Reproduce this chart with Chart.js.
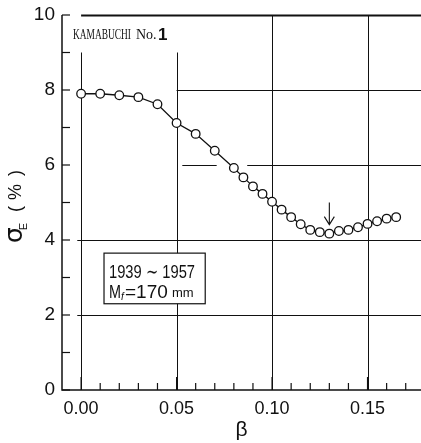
<!DOCTYPE html>
<html lang="en">
<head>
<meta charset="UTF-8">
<title>KAMABUCHI No.1 - sigma_E vs beta</title>
<script src="https://cdn.jsdelivr.net/npm/chart.js"></script>
<style>
    html, body { margin: 0; padding: 0; background: #fff; }
    .chart-container { position: relative; width: 421px; height: 443px; }
</style>
</head>
<body>
<div class="chart-container">
    <canvas id="sigmaChart" width="421" height="443"></canvas>
</div>
<script>
// values
const betaValues = [0.00, 0.01, 0.02, 0.03, 0.04, 0.05, 0.06, 0.07, 0.08,
    0.085, 0.09, 0.095, 0.10, 0.105, 0.11, 0.115, 0.12, 0.125, 0.13,
    0.135, 0.14, 0.145, 0.15, 0.155, 0.16, 0.165];
const sigmaValues = [7.90, 7.90, 7.86, 7.81, 7.62, 7.12, 6.83, 6.38, 5.92,
    5.67, 5.43, 5.23, 5.02, 4.81, 4.61, 4.42, 4.27, 4.21, 4.17,
    4.24, 4.27, 4.34, 4.43, 4.50, 4.57, 4.61];
const xTickValues = [0, 0.05, 0.10, 0.15];
const xTickLabels = ['0.00', '0.05', '0.10', '0.15'];
const yTickValues = [0, 2, 4, 6, 8, 10];
const markedBeta = 0.13;   // arrow marks the minimum

const INK = '#111';

// draw text squeezed to a given width (the scan uses narrow type)
function narrowText(ctx, text, x, y, font, width) {
    ctx.save();
    ctx.font = font;
    const w = ctx.measureText(text).width;
    ctx.translate(x, y);
    ctx.scale(Math.min(1, width / w), 1);
    ctx.fillText(text, 0, 0);
    ctx.restore();
}

// grid, axes, small ticks and notes like the hand drawn original
const paperPlugin = {
    id: 'paper',
    beforeDatasetsDraw(chart) {
        const { ctx, chartArea: a, scales: { x, y } } = chart;
        ctx.save();
        ctx.strokeStyle = INK;
        ctx.lineCap = 'butt';

        // vertical grid (x=0 and 0.05 stop short of the top)
        ctx.lineWidth = 1;
        xTickValues.forEach(v => {
            const top = v < 0.1 ? 9 : 10;
            const px = Math.round(x.getPixelForValue(v)) + 0.5;
            ctx.beginPath();
            ctx.moveTo(px, y.getPixelForValue(top));
            ctx.lineTo(px, a.bottom);
            ctx.stroke();
        });

        // horizontal grid
        const hSeg = {
            2: [[-0.002, null]],
            4: [[-0.002, null]],
            6: [[0.053, 0.071], [0.087, null]],
            8: [[0.05, null]],
            10: [[0, null]]
        };
        yTickValues.filter(v => v > 0).forEach(v => {
            const py = Math.round(y.getPixelForValue(v)) + 0.5;
            ctx.lineWidth = v === 10 ? 2 : 1;
            hSeg[v].forEach(([s, e]) => {
                ctx.beginPath();
                ctx.moveTo(x.getPixelForValue(s), py);
                ctx.lineTo(e === null ? a.right : x.getPixelForValue(e), py);
                ctx.stroke();
            });
        });

        // axes
        ctx.lineWidth = 1.5;
        ctx.beginPath();
        ctx.moveTo(a.left, a.top);
        ctx.lineTo(a.left, a.bottom);
        ctx.lineTo(a.right, a.bottom);
        ctx.stroke();

        // small ticks pointing inward
        ctx.lineWidth = 1.2;
        for (let i = 0; i <= 17; i++) {
            const px = x.getPixelForValue(i / 100);
            ctx.beginPath();
            ctx.moveTo(px, a.bottom);
            ctx.lineTo(px, a.bottom - (i % 5 === 0 ? 13 : 7));
            ctx.stroke();
        }
        for (let j = 0; j <= 10; j++) {
            const py = y.getPixelForValue(j);
            ctx.beginPath();
            ctx.moveTo(a.left, py);
            ctx.lineTo(a.left + 8, py);
            ctx.stroke();
        }
        ctx.restore();
    },
    afterDatasetsDraw(chart) {
        const { ctx, chartArea: a, scales: { x, y } } = chart;
        ctx.save();
        ctx.fillStyle = INK;
        ctx.strokeStyle = INK;
        ctx.textBaseline = 'alphabetic';

        // station name
        narrowText(ctx, 'KAMABUCHI', 73, 39, '14px "Liberation Serif"', 58);
        narrowText(ctx, 'No.', 136, 39, '14px "Liberation Serif"', 21);
        ctx.font = 'bold 17px "Liberation Sans"';
        ctx.fillText('1', 158, 40);

        // arrow at the minimum
        const ax = x.getPixelForValue(markedBeta);
        const ay0 = y.getPixelForValue(5.0);
        const ay1 = y.getPixelForValue(4.41);
        ctx.lineWidth = 1.1;
        ctx.beginPath();
        ctx.moveTo(ax, ay0);
        ctx.lineTo(ax, ay1);
        ctx.moveTo(ax - 5, ay1 - 8);
        ctx.lineTo(ax, ay1);
        ctx.lineTo(ax + 5, ay1 - 8);
        ctx.stroke();

        // info box
        const bx0 = x.getPixelForValue(0.012), bx1 = x.getPixelForValue(0.065);
        const by0 = y.getPixelForValue(3.65), by1 = y.getPixelForValue(2.3);
        ctx.lineWidth = 1.2;
        ctx.fillStyle = '#fff';
        ctx.fillRect(bx0, by0, bx1 - bx0, by1 - by0);
        ctx.strokeRect(bx0, by0, bx1 - bx0, by1 - by0);
        ctx.fillStyle = INK;
        narrowText(ctx, '1939 \u223C 1957', bx0 + 5, by0 + 25, '19px "Liberation Sans"', 86);
        narrowText(ctx, 'M', bx0 + 5, by0 + 45, '19px "Liberation Sans"', 12);
        ctx.font = 'italic 10px "Liberation Sans"';
        ctx.fillText('f', bx0 + 17, by0 + 47);
        ctx.font = '19px "Liberation Sans"';
        ctx.fillText('=170', bx0 + 21, by0 + 45);
        ctx.font = '13px "Liberation Sans"';
        ctx.fillText('mm', bx0 + 68, by0 + 44);

        // y axis title  "σE ( % )", read bottom to top
        ctx.save();
        ctx.translate(22, 243);
        ctx.rotate(-Math.PI / 2);
        ctx.font = '25px "DejaVu Sans"';
        ctx.fillText('\u03C3', 0, 0);
        const ws = ctx.measureText('\u03C3').width;
        ctx.font = '11px "Liberation Sans"';
        ctx.fillText('E', ws - 3, 5);
        ctx.font = '18px "Liberation Sans"';
        ctx.fillText('(', 31, -1);
        ctx.fillText('%', 43, -1);
        ctx.fillText(')', 67, -1);
        ctx.restore();

        ctx.restore();
    }
};

const ctx = document.getElementById('sigmaChart').getContext('2d');

const sigmaChart = new Chart(ctx, {
    type: 'scatter',
    data: {
        datasets: [{
            data: betaValues.map((b, i) => ({ x: b, y: sigmaValues[i] })),
            showLine: true,
            tension: 0,
            borderColor: INK,
            borderWidth: 1.3,
            pointRadius: 4.3,
            pointBorderWidth: 1.3,
            pointBorderColor: INK,
            pointBackgroundColor: '#fff'
        }]
    },
    options: {
        responsive: false,
        animation: false,
        devicePixelRatio: 1,
        layout: { autoPadding: false, padding: { top: 15, right: 0, left: 0, bottom: 0 } },
        plugins: {
            legend: { display: false },
            tooltip: { enabled: false }
        },
        scales: {
            x: {
                type: 'linear',
                min: -0.01,
                max: 0.178,
                afterBuildTicks: s => { s.ticks = xTickValues.map(v => ({ value: v })); },
                afterFit: s => { s.height = 53; s.paddingLeft = 0; s.paddingRight = 0; },
                grid: { display: false, drawTicks: false },
                border: { display: false },
                ticks: {
                    color: INK,
                    padding: 8,
                    font: { family: 'Liberation Sans', size: 18 },
                    callback: (v) => xTickLabels[xTickValues.indexOf(v)] ?? ''
                },
                title: {
                    display: true,
                    text: '\u03B2',
                    color: INK,
                    padding: { top: 0, bottom: 0 },
                    font: { family: 'Liberation Sans', size: 21 }
                }
            },
            y: {
                type: 'linear',
                min: 0,
                max: 10,
                afterBuildTicks: s => { s.ticks = yTickValues.map(v => ({ value: v })); },
                afterFit: s => { s.width = 62; s.paddingTop = 0; s.paddingBottom = 0; },
                grid: { display: false, drawTicks: false },
                border: { display: false },
                ticks: {
                    color: INK,
                    padding: 7,
                    font: { family: 'Liberation Sans', size: 19 }
                }
            }
        }
    },
    plugins: [paperPlugin]
});
</script>
</body>
</html>
